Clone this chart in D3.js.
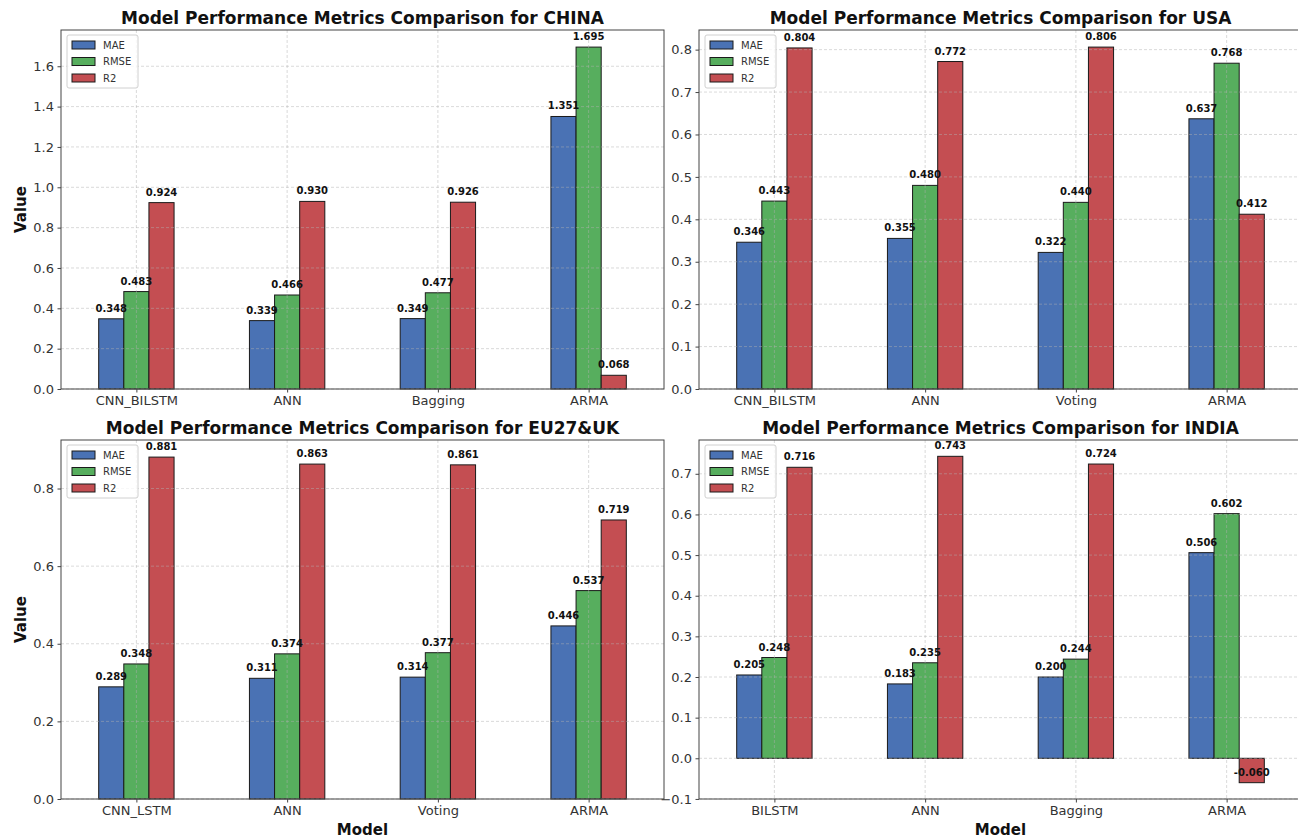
<!DOCTYPE html>
<html>
<head>
<meta charset="utf-8">
<script src="https://cdn.jsdelivr.net/npm/d3@7"></script>
<style>
  body { margin: 0; background: #fff; }
  svg { display: block; font-family: "DejaVu Sans", sans-serif; }
</style>
</head>
<body>
<svg id="chart" width="1298" height="838"></svg>
<script>
// ---- data ----
const metrics = ["MAE", "RMSE", "R2"];

const chinaModels = ["CNN_BILSTM", "ANN", "Bagging", "ARMA"];
const chinaMAE  = [0.348, 0.339, 0.349, 1.351];
const chinaRMSE = [0.483, 0.466, 0.477, 1.695];
const chinaR2   = [0.924, 0.930, 0.926, 0.068];
const chinaTicks = [0.0, 0.2, 0.4, 0.6, 0.8, 1.0, 1.2, 1.4, 1.6];

const usaModels = ["CNN_BILSTM", "ANN", "Voting", "ARMA"];
const usaMAE  = [0.346, 0.355, 0.322, 0.637];
const usaRMSE = [0.443, 0.480, 0.440, 0.768];
const usaR2   = [0.804, 0.772, 0.806, 0.412];
const usaTicks = [0.0, 0.1, 0.2, 0.3, 0.4, 0.5, 0.6, 0.7, 0.8];

const euModels = ["CNN_LSTM", "ANN", "Voting", "ARMA"];
const euMAE  = [0.289, 0.311, 0.314, 0.446];
const euRMSE = [0.348, 0.374, 0.377, 0.537];
const euR2   = [0.881, 0.863, 0.861, 0.719];
const euTicks = [0.0, 0.2, 0.4, 0.6, 0.8];

const indiaModels = ["BILSTM", "ANN", "Bagging", "ARMA"];
const indiaMAE  = [0.205, 0.183, 0.200, 0.506];
const indiaRMSE = [0.248, 0.235, 0.244, 0.602];
const indiaR2   = [0.716, 0.743, 0.724, -0.060];
const indiaTicks = [-0.1, 0.0, 0.1, 0.2, 0.3, 0.4, 0.5, 0.6, 0.7];

const regions = ["CHINA", "USA", "EU27&UK", "INDIA"];

// ---- panels built from the arrays above ----
const panels = [
  { region: regions[0], models: chinaModels, series: [chinaMAE, chinaRMSE, chinaR2], ticks: chinaTicks },
  { region: regions[1], models: usaModels,   series: [usaMAE, usaRMSE, usaR2],       ticks: usaTicks },
  { region: regions[2], models: euModels,    series: [euMAE, euRMSE, euR2],          ticks: euTicks },
  { region: regions[3], models: indiaModels, series: [indiaMAE, indiaRMSE, indiaR2], ticks: indiaTicks }
];

// ---- layout & style ----
const W = 603, H = 359;
const layout = [
  { left: 61,  top: 30,  ylabel: true,  xlabel: false },
  { left: 699, top: 30,  ylabel: false, xlabel: false },
  { left: 61,  top: 440, ylabel: true,  xlabel: true },
  { left: 699, top: 440, ylabel: false, xlabel: true }
];
const colors = ["#4A72B4", "#57AE5E", "#C44E52"];
const barW = 0.5 / 3;

const svg = d3.select("#chart");
svg.append("rect").attr("width", 1298).attr("height", 838).attr("fill", "#fff");

panels.forEach((p, pi) => {
  const L = layout[pi];
  const g = svg.append("g").attr("transform", `translate(${L.left},${L.top})`);

  const all = p.series.flat();
  const lo = Math.min(0, d3.min(all)), hi = Math.max(0, d3.max(all));
  const span = hi - lo;
  const y0 = lo < 0 ? lo - 0.05 * span : 0;
  const y1 = hi > 0 ? hi + 0.05 * span : 0;

  const x = d3.scaleLinear().domain([-0.5, p.models.length - 0.5]).range([0, W]);
  const y = d3.scaleLinear().domain([y0, y1]).range([H, 0]);

  // bars
  p.series.forEach((vals, k) => {
    g.append("g").selectAll("rect").data(vals).join("rect")
      .attr("x", (v, i) => x(i + (k - 1) * barW - barW / 2))
      .attr("width", x(barW) - x(0))
      .attr("y", v => y(Math.max(v, 0)))
      .attr("height", v => Math.abs(y(v) - y(0)))
      .attr("fill", colors[k])
      .attr("stroke", "#1a1a1a")
      .attr("stroke-width", 1);
  });

  // grid (drawn over bars, faint dashed)
  const grid = g.append("g").attr("stroke", "#b0b0b0").attr("stroke-opacity", 0.6)
    .attr("stroke-dasharray", "3,2").attr("stroke-width", 0.8);
  grid.selectAll("line.h").data(p.ticks).join("line").attr("class", "h")
    .attr("x1", 0).attr("x2", W).attr("y1", d => y(d)).attr("y2", d => y(d));
  grid.selectAll("line.v").data(p.models.map((m, i) => i)).join("line").attr("class", "v")
    .attr("y1", 0).attr("y2", H).attr("x1", d => x(d)).attr("x2", d => x(d));

  // value labels
  p.series.forEach((vals, k) => {
    g.append("g").selectAll("text").data(vals).join("text")
      .attr("x", (v, i) => x(i + (k - 1) * barW))
      .attr("y", v => y(v) - 7)
      .attr("text-anchor", "middle")
      .attr("font-size", 10).attr("font-weight", "bold").attr("fill", "#111")
      .text(v => v.toFixed(3));
  });

  // axes
  const yAxis = g.append("g")
    .call(d3.axisLeft(y).tickValues(p.ticks).tickFormat(d3.format(".1f")).tickSize(3.5).tickPadding(3.5));
  const xAxis = g.append("g").attr("transform", `translate(0,${H})`)
    .call(d3.axisBottom(x).tickValues(p.models.map((m, i) => i)).tickFormat(i => p.models[i]).tickSize(3.5).tickPadding(3.5));
  [yAxis, xAxis].forEach(a => {
    a.select(".domain").remove();
    a.selectAll(".tick line").attr("stroke", "#444");
    a.selectAll(".tick text").attr("font-size", 13).attr("fill", "#333").attr("font-family", "DejaVu Sans");
  });

  // frame
  g.append("rect").attr("width", W).attr("height", H)
    .attr("fill", "none").attr("stroke", "#444").attr("stroke-width", 1);

  // title
  g.append("text").attr("x", W / 2).attr("y", -6).attr("text-anchor", "middle")
    .attr("font-size", 17).attr("font-weight", "bold").attr("fill", "#111")
    .text(`Model Performance Metrics Comparison for ${p.region}`);

  if (L.ylabel) {
    g.append("text").attr("transform", `translate(-40,${H / 2}) rotate(-90)`)
      .attr("text-anchor", "middle").attr("dy", "0.35em")
      .attr("font-size", 15).attr("font-weight", "bold").attr("fill", "#111").text("Value");
  }
  if (L.xlabel) {
    g.append("text").attr("x", W / 2).attr("y", H + 36).attr("text-anchor", "middle")
      .attr("font-size", 15).attr("font-weight", "bold").attr("fill", "#111").text("Model");
  }

  // legend
  const lg = g.append("g").attr("transform", "translate(6,5)");
  lg.append("rect").attr("width", 71).attr("height", 53).attr("rx", 2)
    .attr("fill", "#fff").attr("fill-opacity", 0.8).attr("stroke", "#d0d0d0");
  metrics.forEach((m, k) => {
    const row = lg.append("g").attr("transform", `translate(5,${10 + k * 16.5})`);
    row.append("rect").attr("x", 0).attr("y", -4).attr("width", 23).attr("height", 8)
      .attr("fill", colors[k]).attr("stroke", "#1a1a1a").attr("stroke-width", 1);
    row.append("text").attr("x", 31).attr("y", 0).attr("dy", "0.35em")
      .attr("font-size", 10).attr("fill", "#333").text(m);
  });
});
</script>
</body>
</html>
